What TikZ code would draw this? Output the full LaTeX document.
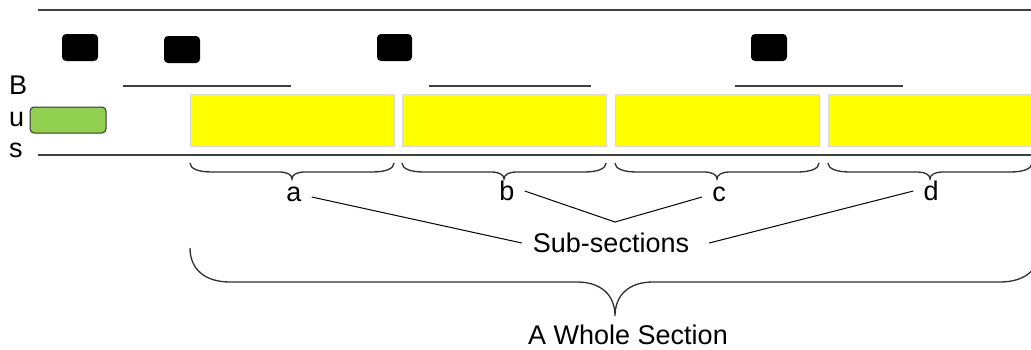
\documentclass[tikz,border=0pt]{standalone}
\usepackage{fontspec}
\setmainfont{Liberation Sans}
\definecolor{linegray}{HTML}{404040}
\definecolor{bracegray}{HTML}{303030}
\definecolor{boxgreen}{HTML}{92D050}
\definecolor{yborder}{HTML}{D9D9D9}
\definecolor{pureyellow}{HTML}{FFFF00}
\newcommand\mybrace[7]{% xl xr ytop ymid ytip endw tipw
  \pgfmathsetmacro\bxm{(#1+#2)/2}%
  \draw[bracestyle] (#1,#3) .. controls (#1,{#3+0.6*(#4-#3)}) and ({#1+0.35*#6},#4) .. ({#1+#6},#4)
    -- ({\bxm-#7},#4) .. controls ({\bxm-0.35*#7},#4) and (\bxm,{#4+0.4*(#5-#4)}) .. (\bxm,#5)
    .. controls (\bxm,{#4+0.4*(#5-#4)}) and ({\bxm+0.35*#7},#4) .. ({\bxm+#7},#4)
    -- ({#2-#6},#4) .. controls ({#2-0.35*#6},#4) and (#2,{#3+0.6*(#4-#3)}) .. (#2,#3);%
}
\tikzset{
  busline/.style={draw=linegray, line width=1.5pt},
  thinbar/.style={draw=linegray, line width=1.5pt},
  bracestyle/.style={draw=bracegray, line width=1.3pt},
  blk/.style={fill=black, rounded corners=4pt},
  ybox/.style={fill=pureyellow, draw=yborder, line width=0.8pt},
  gbox/.style={fill=boxgreen, draw=black!80, line width=1pt, rounded corners=4pt},
  lbl/.style={font=\fontsize{27}{30}\selectfont, inner xsep=10pt, inner ysep=2pt},
  side/.style={font=\fontsize{27}{30}\selectfont, anchor=base west, inner sep=0pt},
  conn/.style={draw=black, line width=1pt}
}
\begin{document}
\begin{tikzpicture}[x=1pt, y=-1pt]
\clip (0,0) rectangle (1031,349);
\fill[white] (0,0) rectangle (1031,349);
% bus lines
\draw[busline] (38,10) -- (1040,10);
\draw[busline] (38,155) -- (1040,155);
% side letters
\node[side] (lB) at (9,94) {B};
\node[side] (lu) at (9,126) {u};
\node[side] (ls) at (9,157) {s};
% black blocks
\fill[blk] (62,34) rectangle (98,61);
\fill[blk] (164,36) rectangle (200,63);
\fill[blk] (377,34) rectangle (412,61);
\fill[blk] (751,34) rectangle (787,61);
% thin bars
\draw[thinbar] (123,86) -- (291,86);
\draw[thinbar] (429,86) -- (591,86);
\draw[thinbar] (735,86) -- (903,86);
% green box
\draw[gbox] (30,107) rectangle (106,133);
% yellow boxes
\draw[ybox] (190,94) rectangle (394,146);
\draw[ybox] (402,94) rectangle (606,146);
\draw[ybox] (615,94) rectangle (819,146);
\draw[ybox] (828,94) rectangle (1040,146);
% small braces
\mybrace{190}{394}{163}{172}{179}{22}{13}
\mybrace{402}{606}{163}{172}{179}{22}{13}
\mybrace{615}{819}{163}{172}{179}{22}{13}
\mybrace{828}{1032}{163}{172}{179}{22}{13}
% big brace
\mybrace{190}{1040}{248}{282}{316}{40}{38}
% labels
\node[lbl] (a) at (294,194) {a};
\node[lbl] (b) at (507,191) {b};
\node[lbl] (c) at (719,194) {c};
\node[lbl] (d) at (931,191) {d};
\node[lbl, inner xsep=11pt] (sub) at (611,243) {Sub-sections};
\node[lbl, inner ysep=0pt] (whole) at (628,335) {A Whole Section};
\coordinate (v) at (615,222);
% connectors
\draw[conn] ([yshift=-3pt]a.east) -- (sub.west);
\draw[conn] (b.east) -- (v) -- ([yshift=-3pt]c.west);
\draw[conn] ([xshift=9pt]sub.east) -- (d.west);
\end{tikzpicture}
\end{document}
